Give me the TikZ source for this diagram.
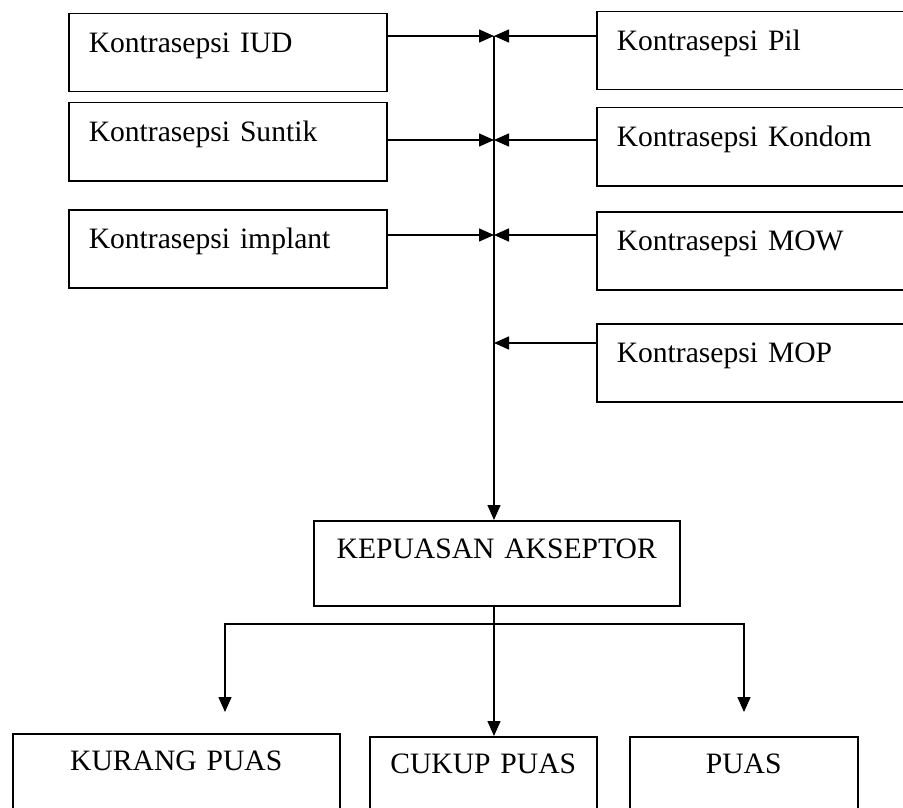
\documentclass[tikz,border=0pt]{standalone}
\usepackage{fontspec}
\setmainfont{Liberation Serif}
\usetikzlibrary{arrows.meta,calc}
\tikzset{
	kbox/.style={
			draw, line width=1.5pt, anchor=north west, align=left,
			inner xsep=20pt, inner ysep=0pt,
			text height=39pt, text depth=39pt
		},
	hasil/.style={
			draw, line width=1.5pt, anchor=north west, align=center,
			inner xsep=0pt, inner ysep=0pt,
			text height=37pt, text depth=42pt
		},
	conn/.style={line width=1.5pt, -{Triangle[length=15pt,width=13pt]}}
}

\begin{document}
\begin{tikzpicture}[x=1pt, y=-1pt, font=\fontsize{29.6pt}{34pt}\selectfont]

			\useasboundingbox (0,0) rectangle (903,808);
			\clip (0,0) rectangle (903,808);

			% Left boxes
			\node[kbox, text width=278pt] (iud) at (68,13) {Kontrasepsi IUD};
			\node[kbox, text width=278pt] (suntik) at (68,102) {Kontrasepsi Suntik};
			\node[kbox, text width=278pt] (implant) at (68,209) {Kontrasepsi implant};

			% Right boxes (cut off at the page edge)
			\node[kbox, text width=310pt] (pil) at (596,11) {Kontrasepsi Pil};
			\node[kbox, text width=310pt] (kondom) at (596,107) {Kontrasepsi Kondom};
			\node[kbox, text width=310pt] (mow) at (596,211) {Kontrasepsi MOW};
			\node[kbox, text width=310pt] (mop) at (596,323) {Kontrasepsi MOP};

			% Result boxes
			\node[hasil, text width=366pt, text height=38pt, text depth=47pt] (kepuasan) at (313,520) {KEPUASAN AKSEPTOR};
			\node[hasil, text width=327pt] (kurang) at (12,733) {KURANG PUAS};
			\node[hasil, text width=227pt] (cukup) at (369,736) {CUKUP PUAS};
			\node[hasil, text width=228pt] (puas) at (629,736) {PUAS};

			% Points on the bus line
			\coordinate (j1) at (494,36);
			\coordinate (j2) at (494,140);
			\coordinate (j3) at (494,235);
			\coordinate (j4) at (494,343);
			\coordinate (cabang) at (494,624);
			\coordinate (tipkurang) at (225,712);
			\coordinate (tippuas) at (744,712);

			% Arrows into the bus
			\draw[conn] (iud.east |- j1) -- (j1);
			\draw[conn] (suntik.east |- j2) -- (j2);
			\draw[conn] (implant.east |- j3) -- (j3);
			\draw[conn] (pil.west |- j1) -- (j1);
			\draw[conn] (kondom.west |- j2) -- (j2);
			\draw[conn] (mow.west |- j3) -- (j3);
			\draw[conn] (mop.west |- j4) -- (j4);

			% Bus down to the result
			\draw[conn] (j1) -- (kepuasan.north -| j1);
			\draw[conn] (kepuasan.south -| j1) -- (cukup.north -| j1);
			\draw[conn] (cabang) -| (tipkurang);
			\draw[conn] (cabang) -| (tippuas);

		\end{tikzpicture}
\end{document}
